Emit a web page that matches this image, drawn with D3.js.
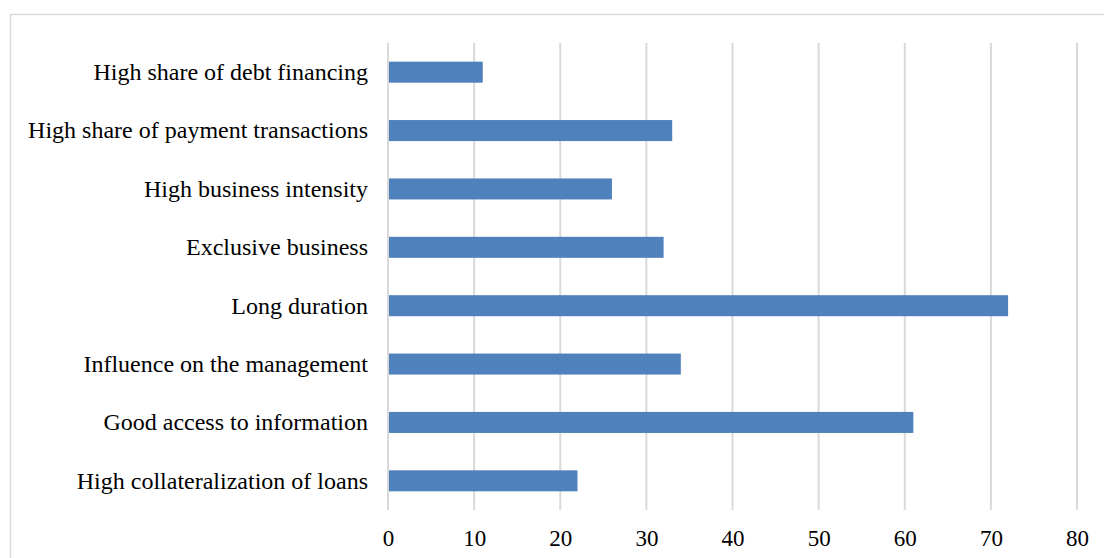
<!DOCTYPE html>
<html>
<head>
<meta charset="utf-8">
<script src="https://cdn.jsdelivr.net/npm/d3@7"></script>
<style>
  body { margin: 0; background: #fff; }
  svg { display: block; }
</style>
</head>
<body>
<div id="chart"></div>
<script>
const categories = [
  'High share of debt financing',
  'High share of payment transactions',
  'High business intensity',
  'Exclusive business',
  'Long duration',
  'Influence on the management',
  'Good access to information',
  'High collateralization of loans'
];
const values = [11, 33, 26, 32, 72, 34, 61, 22];
const ticks = [0, 10, 20, 30, 40, 50, 60, 70, 80];

var width = 1104, height = 558;
var margin = { left: 388, right: 27, top: 43, bottom: 48 };

var svg = d3.select('#chart')
  .append('svg')
  .attr('width', width)
  .attr('height', height);

// chart frame
svg.append('rect')
  .attr('x', 10.5)
  .attr('y', 14.5)
  .attr('width', width)
  .attr('height', height)
  .attr('fill', 'none')
  .attr('stroke', '#d9d9d9')
  .attr('stroke-width', 1.5);

var x = d3.scaleLinear()
  .domain([0, 80])
  .range([margin.left, width - margin.right]);

var y = d3.scaleBand()
  .domain(categories)
  .range([margin.top, height - margin.bottom])
  .paddingInner(0.64)
  .paddingOuter(0.32);

// gridlines
svg.selectAll('.grid')
  .data(ticks)
  .enter()
  .append('line')
  .attr('class', 'grid')
  .attr('x1', function(d) { return x(d); })
  .attr('x2', function(d) { return x(d); })
  .attr('y1', margin.top)
  .attr('y2', height - margin.bottom)
  .attr('stroke', '#d9d9d9')
  .attr('stroke-width', 2);

svg.selectAll('.bar')
  .data(values)
  .enter()
  .append('rect')
  .attr('class', 'bar')
  .attr('x', x(0) + 1)
  .attr('y', function(d, i) { return y(categories[i]); })
  .attr('width', function(d) { return x(d) - x(0) - 1; })
  .attr('height', y.bandwidth())
  .attr('fill', '#4f81bd');

// category labels
svg.selectAll('.cat')
  .data(categories)
  .enter()
  .append('text')
  .attr('class', 'cat')
  .attr('x', 368)
  .attr('y', function(d) { return y(d) + y.bandwidth() / 2; })
  .attr('dy', '0.33em')
  .attr('text-anchor', 'end')
  .attr('font-family', 'Liberation Serif, Times New Roman, serif')
  .attr('font-size', 24)
  .attr('fill', '#000')
  .text(function(d) { return d; });

// x axis labels
var xAxis = svg.append('g')
  .attr('transform', 'translate(0,' + (height - margin.bottom) + ')')
  .call(d3.axisBottom(x).tickValues(ticks).tickSize(0).tickPadding(20));
xAxis.select('.domain').remove();
xAxis.selectAll('text')
  .attr('font-family', 'Liberation Serif, Times New Roman, serif')
  .attr('font-size', 23)
  .attr('fill', '#000');
</script>
</body>
</html>
